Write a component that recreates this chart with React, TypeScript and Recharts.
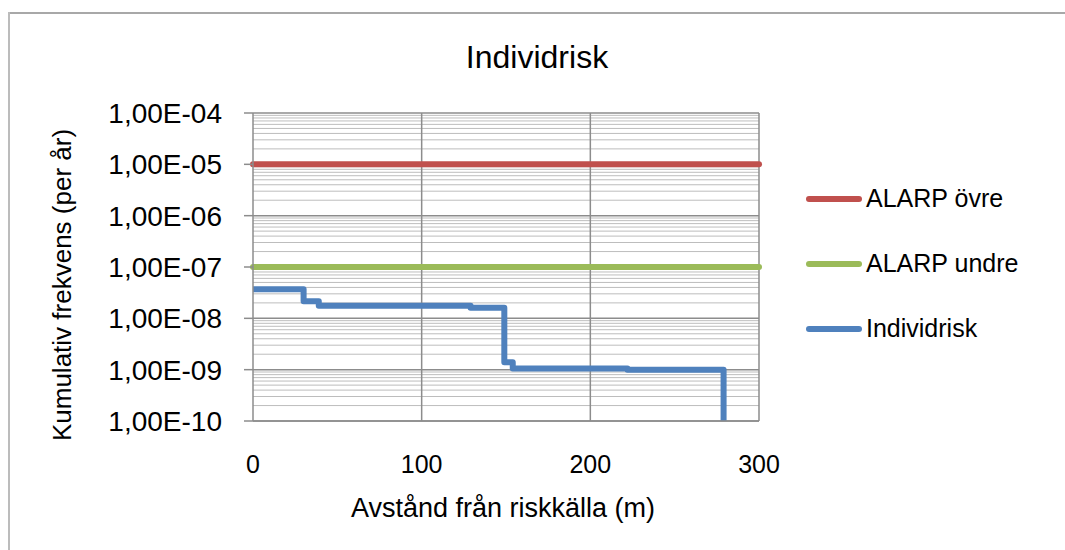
import React from "react";
import { LineChart, Line, XAxis, YAxis, CartesianGrid } from "recharts";

// ---- data ----
const distances = [0, 30, 39, 129, 149, 154, 222, 279];
const individRisk = [3.7e-8, 2.15e-8, 1.75e-8, 1.6e-8, 1.4e-9, 1.05e-9, 1.0e-9, 1e-10];
const alarpX = [0, 300];
const alarpUpper = [1e-5, 1e-5];
const alarpLower = [1e-7, 1e-7];
const xTicks = [0, 100, 200, 300];
const yTicks = [1e-10, 1e-9, 1e-8, 1e-7, 1e-6, 1e-5, 1e-4];
const minorMultipliers = [2, 3, 4, 5, 6, 7, 8, 9];
const seriesNames = ["ALARP övre", "ALARP undre", "Individrisk"];
const seriesColors = ["#C0504D", "#9BBB59", "#4F81BD"];
const chartTitle = "Individrisk";
const xTitle = "Avstånd från riskkälla (m)";
const yTitle = "Kumulativ frekvens (per år)";

const minorValues: number[] = [];
yTicks.slice(0, -1).forEach((d) => minorMultipliers.forEach((m) => minorValues.push(m * d)));

const riskData = distances.map((x, i) => ({ x, v: individRisk[i] }));
const upperData = alarpX.map((x, i) => ({ x, v: alarpUpper[i] }));
const lowerData = alarpX.map((x, i) => ({ x, v: alarpLower[i] }));

const fmtY = (v: number) => {
  const e = Math.round(Math.log10(v));
  return `1,00E-${String(-e).padStart(2, "0")}`;
};

const FONT = "'Liberation Sans', Arial, sans-serif";

const LegendBox = () => (
  <div style={{ position: "absolute", left: 806, top: 166, fontFamily: FONT }}>
    {seriesNames.map((n, i) => (
      <div key={n} style={{ display: "flex", alignItems: "center", height: 65 }}>
        <div style={{ width: 56, height: 6, borderRadius: 3, background: seriesColors[i] }} />
        <span style={{ fontSize: 25, marginLeft: 4, color: "#000" }}>{n}</span>
      </div>
    ))}
  </div>
);

export default function App() {
  return (
    <div
      style={{
        position: "fixed",
        left: 0,
        top: 0,
        width: 1065,
        height: 550,
        overflow: "hidden",
        background: "#fff",
        fontFamily: FONT,
      }}
    >
      <div style={{ position: "absolute", left: 8, top: 12, width: 1057, height: 2, background: "#a8a8a8" }} />
      <div style={{ position: "absolute", left: 8, top: 12, width: 2, height: 538, background: "#bcbcbc" }} />
      <div
        style={{
          position: "absolute",
          left: 0,
          width: 1074,
          top: 38,
          textAlign: "center",
          fontSize: 32,
          lineHeight: "38px",
          color: "#000",
        }}
      >
        {chartTitle}
      </div>
      <div style={{ position: "absolute", left: 0, top: 0 }}>
        <LineChart width={1065} height={550} margin={{ top: 113, right: 306, bottom: 29, left: 0 }}>
          <CartesianGrid horizontalValues={minorValues} vertical={false} stroke="#bdbdbd" strokeWidth={1} />
          <CartesianGrid
            horizontalValues={yTicks}
            verticalValues={[100, 200, 300]}
            stroke="#8c8c8c"
            strokeWidth={1.5}
          />
          <XAxis
            dataKey="x"
            type="number"
            domain={[0, 300]}
            ticks={xTicks}
            allowDuplicatedCategory={false}
            height={100}
            tickLine={false}
            tickMargin={28}
            axisLine={{ stroke: "#8c8c8c", strokeWidth: 1.5 }}
            tick={{ fill: "#000", fontSize: 25, fontFamily: FONT }}
            label={{
              content: (p: any) => {
                const vb = p.viewBox;
                return (
                  <text
                    x={vb.x + vb.width / 2 - 3}
                    y={508}
                    textAnchor="middle"
                    dominantBaseline="central"
                    fontSize={27}
                    fontFamily={FONT}
                    fill="#000"
                  >
                    {xTitle}
                  </text>
                );
              },
            }}
          />
          <YAxis
            dataKey="v"
            type="number"
            scale="log"
            domain={[1e-10, 1e-4]}
            allowDataOverflow
            ticks={yTicks}
            interval={0}
            width={253}
            tickSize={9}
            tickMargin={22}
            tickFormatter={fmtY}
            tickLine={{ stroke: "#8c8c8c", strokeWidth: 1.5 }}
            axisLine={{ stroke: "#8c8c8c", strokeWidth: 1.5 }}
            tick={{ fill: "#000", fontSize: 28, fontFamily: FONT }}
            label={{
              content: (p: any) => {
                const vb = p.viewBox;
                const cx = 62;
                const cy = vb.y + vb.height / 2 + 18;
                return (
                  <text
                    x={cx}
                    y={cy}
                    transform={`rotate(-90 ${cx} ${cy})`}
                    textAnchor="middle"
                    dominantBaseline="central"
                    fontSize={26}
                    fontFamily={FONT}
                    fill="#000"
                  >
                    {yTitle}
                  </text>
                );
              },
            }}
          />
          <Line
            data={upperData}
            dataKey="v"
            name={seriesNames[0]}
            stroke={seriesColors[0]}
            strokeWidth={6}
            strokeLinecap="round"
            dot={false}
            isAnimationActive={false}
          />
          <Line
            data={lowerData}
            dataKey="v"
            name={seriesNames[1]}
            stroke={seriesColors[1]}
            strokeWidth={6}
            strokeLinecap="round"
            dot={false}
            isAnimationActive={false}
          />
          <Line
            data={riskData}
            type="stepAfter"
            dataKey="v"
            name={seriesNames[2]}
            stroke={seriesColors[2]}
            strokeWidth={6}
            strokeLinecap="butt"
            strokeLinejoin="round"
            dot={false}
            isAnimationActive={false}
          />
        </LineChart>
      </div>
      <LegendBox />
    </div>
  );
}
